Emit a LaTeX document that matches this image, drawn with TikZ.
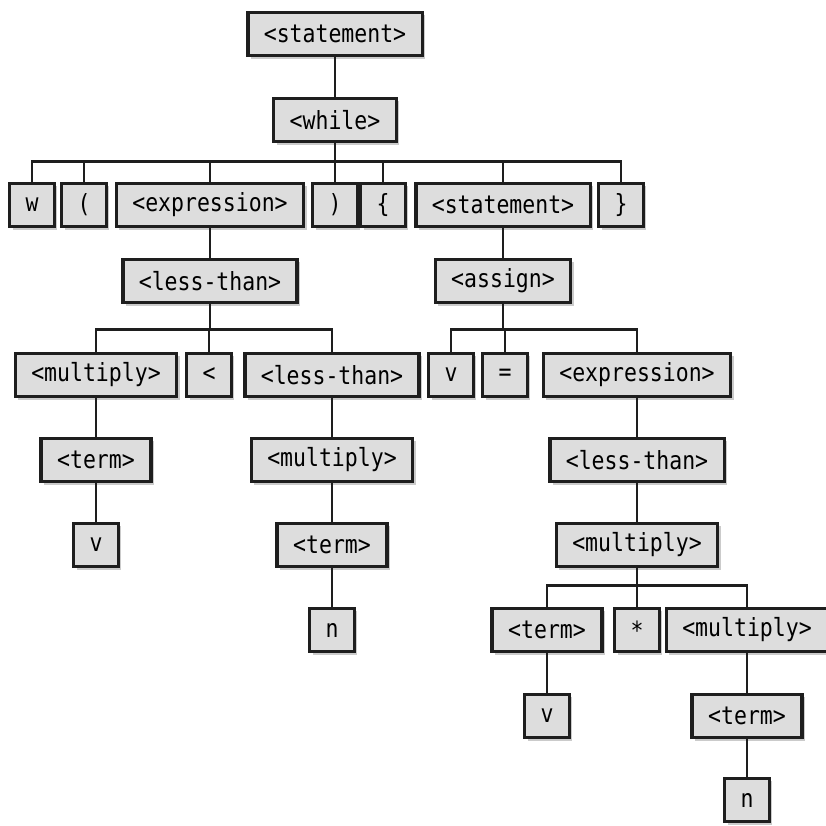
\documentclass[tikz,border=0pt]{standalone}
\usepackage{fontspec}
\setmonofont[FakeStretch=0.86]{DejaVu Sans Mono}
\usepackage{tikz}
\usetikzlibrary{shadows,calc}
\definecolor{boxgray}{RGB}{221,221,221}
\definecolor{linegray}{RGB}{30,30,30}
\tikzset{
  tbox/.style ={draw=linegray, fill=boxgray, line width=3.4pt,
                minimum height=43.5pt, inner xsep=16pt, inner ysep=2pt,
                font=\ttfamily\fontsize{25}{28}\selectfont,
                drop shadow={shadow xshift=3pt, shadow yshift=-3pt,
                             fill=black!45, opacity=0.45}},
  edge/.style ={draw=linegray, line width=2.8pt},
}

\begin{document}
\begin{tikzpicture}[x=1pt,y=-1pt]
  \useasboundingbox (0,0) rectangle (826,825);
  % top
  \node[tbox] (stmt)  at (335,34)  {<statement>};
  \node[tbox] (while) at (335,120) {<while>};
  % while children
  \node[tbox] (w)      at (32,205)  {w};
  \node[tbox] (lpar)   at (84,205)  {(};
  \node[tbox] (expr)   at (210,205) {<expression>};
  \node[tbox] (rpar)   at (335,205) {)};
  \node[tbox] (lbrace) at (383,205) {\{};
  \node[tbox] (stmtb)  at (503,205) {<statement>};
  \node[tbox] (rbrace) at (621,205) {\}};
  % left branch
  \node[tbox] (lt)    at (210,281) {<less-than>};
  \node[tbox] (mul)   at (96,375)  {<multiply>};
  \node[tbox] (less)  at (209,375) {<};
  \node[tbox] (ltb)   at (332,375) {<less-than>};
  \node[tbox] (terma) at (96,460)  {<term>};
  \node[tbox] (va)    at (96,545)  {v};
  \node[tbox] (mulb)  at (332,460) {<multiply>};
  \node[tbox] (termb) at (332,545) {<term>};
  \node[tbox] (na)    at (332,630) {n};
  % right branch
  \node[tbox] (assign) at (503,281) {<assign>};
  \node[tbox] (vb)     at (451,375) {v};
  \node[tbox] (eq)     at (505,375) {=};
  \node[tbox] (exprb)  at (637,375) {<expression>};
  \node[tbox] (ltc)    at (637,460) {<less-than>};
  \node[tbox] (mulc)   at (637,545) {<multiply>};
  \node[tbox] (termc)  at (547,630) {<term>};
  \node[tbox] (star)   at (637,630) {*};
  \node[tbox] (muld)   at (747,630) {<multiply>};
  \node[tbox] (vc)     at (547,716) {v};
  \node[tbox] (termd)  at (747,716) {<term>};
  \node[tbox] (nb)     at (747,800) {n};
  % connectors
  \draw[edge] (stmt) -- (while);
  \foreach \c in {w,lpar,expr,rpar,lbrace,stmtb,rbrace}
    \draw[edge] (while.south) -- ++(0,18) -| (\c.north);
  \draw[edge] (expr) -- (lt);
  \foreach \c in {mul,less,ltb}
    \draw[edge] (lt.south) -- ++(0,25) -| (\c.north);
  \draw[edge] (mul) -- (terma);
  \draw[edge] (terma) -- (va);
  \draw[edge] (ltb) -- (mulb);
  \draw[edge] (mulb) -- (termb);
  \draw[edge] (termb) -- (na);
  \draw[edge] (stmtb) -- (assign);
  \foreach \c in {vb,eq,exprb}
    \draw[edge] (assign.south) -- ++(0,25) -| (\c.north);
  \draw[edge] (exprb) -- (ltc);
  \draw[edge] (ltc) -- (mulc);
  \foreach \c in {termc,star,muld}
    \draw[edge] (mulc.south) -- ++(0,17) -| (\c.north);
  \draw[edge] (termc) -- (vc);
  \draw[edge] (muld) -- (termd);
  \draw[edge] (termd) -- (nb);
\end{tikzpicture}
\end{document}
